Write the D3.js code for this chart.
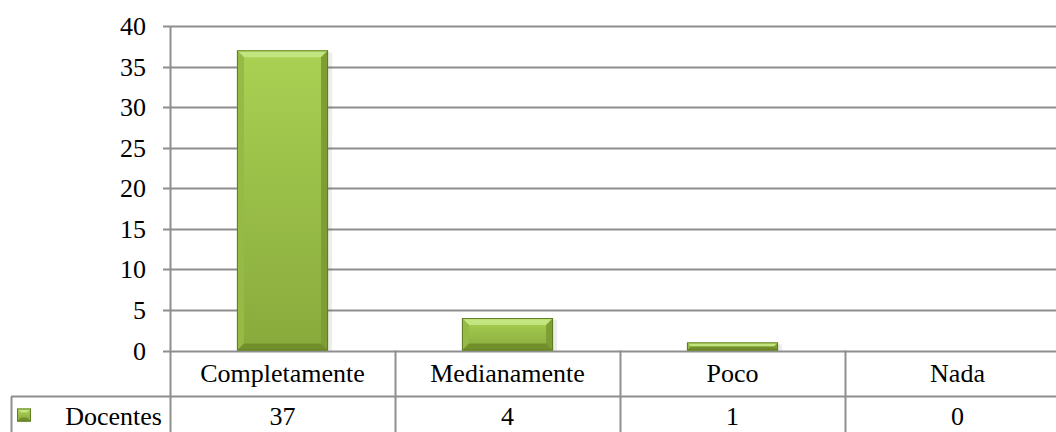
<!DOCTYPE html>
<html>
<head>
<meta charset="utf-8">
<script src="https://cdn.jsdelivr.net/npm/d3@7"></script>
<style>
  body { margin: 0; background: #fff; }
  svg { display: block; }
</style>
</head>
<body>
<script>
// chart data
var categories = ["Completamente", "Medianamente", "Poco", "Nada"];
var seriesName = "Docentes";
var docentes = [37, 4, 1, 0];
var yTicks = [0, 5, 10, 15, 20, 25, 30, 35, 40];

var W = 1056, H = 432;
var margin = {top: 26, left: 170},
    plotRight = 1070,          // plot runs past the right edge in the original
    y0 = 350.5,
    rowH = 46,
    legendLeft = 11,
    fontFam = "'Times New Roman', 'Liberation Serif', 'DejaVu Serif', serif",
    fontSize = "26px";

var svg = d3.select("body").append("svg")
    .attr("width", W)
    .attr("height", H)
    .attr("font-family", fontFam)
    .attr("font-size", fontSize);

var defs = svg.append("defs");
var grad = defs.append("linearGradient")
    .attr("id", "barFace")
    .attr("x1", 0).attr("y1", 0).attr("x2", 0).attr("y2", 1);
grad.append("stop").attr("offset", "0%").attr("stop-color", "#aad153");
grad.append("stop").attr("offset", "100%").attr("stop-color", "#88aa3c");

var xScale = d3.scaleBand()
    .domain(categories)
    .range([margin.left, plotRight])
    .paddingInner(0)
    .paddingOuter(0);

var yScale = d3.scaleLinear()
    .domain([0, 40])
    .range([y0, margin.top]);

// gridlines
svg.append("g")
  .selectAll("line")
  .data(yTicks)
  .enter().append("line")
    .attr("x1", margin.left - 7)
    .attr("x2", plotRight)
    .attr("y1", function(d) { return Math.round(yScale(d)) + 0.5; })
    .attr("y2", function(d) { return Math.round(yScale(d)) + 0.5; })
    .attr("stroke", "#8e8e8e")
    .attr("stroke-width", 2);

// y axis labels
svg.append("g")
  .selectAll("text")
  .data(yTicks)
  .enter().append("text")
    .attr("x", 146)
    .attr("y", function(d) { return yScale(d) + 9; })
    .attr("text-anchor", "end")
    .text(function(d) { return d; });

// bars with bevel
var barW = xScale.bandwidth() * 0.405;
var bars = svg.append("g")
  .selectAll("g")
  .data(docentes.map(function(v, i) { return {key: categories[i], value: v}; }))
  .enter().append("g")
    .filter(function(d) { return d.value > 0; });

bars.each(function(d) {
  var g = d3.select(this);
  var x0 = xScale(d.key) + (xScale.bandwidth() - barW) / 2,
      x1 = x0 + barW,
      yt = yScale(d.value),
      yb = yScale(0),
      h = yb - yt,
      b = Math.min(7, h / 2);

  // soft shadow
  g.append("rect")
    .attr("x", x0 + 2).attr("y", yt + 2)
    .attr("width", barW + 2).attr("height", h - 2)
    .attr("fill", "#000").attr("opacity", 0.07);

  g.append("rect")
    .attr("x", x0).attr("y", yt)
    .attr("width", barW).attr("height", h)
    .attr("fill", "url(#barFace)");

  // top bevel
  g.append("polygon")
    .attr("points", [[x0, yt], [x1, yt], [x1 - b, yt + b], [x0 + b, yt + b]].join(" "))
    .attr("fill", "#c3e57f");
  // left bevel
  g.append("polygon")
    .attr("points", [[x0, yt], [x0 + b, yt + b], [x0 + b, yb - b], [x0, yb]].join(" "))
    .attr("fill", "#95ba46");
  // right bevel
  g.append("polygon")
    .attr("points", [[x1, yt], [x1 - b, yt + b], [x1 - b, yb - b], [x1, yb]].join(" "))
    .attr("fill", "#7e9e35");
  // bottom bevel
  g.append("polygon")
    .attr("points", [[x0, yb], [x0 + b, yb - b], [x1 - b, yb - b], [x1, yb]].join(" "))
    .attr("fill", "#728f2c");

  g.append("rect")
    .attr("x", x0 + 0.5).attr("y", yt + 0.5)
    .attr("width", barW - 1).attr("height", h - 1)
    .attr("fill", "none")
    .attr("stroke", "#5f7d22")
    .attr("stroke-width", 1);
});

// y axis line (continues down as the table's first column border)
svg.append("line")
  .attr("x1", margin.left + 0.5).attr("x2", margin.left + 0.5)
  .attr("y1", margin.top).attr("y2", H)
  .attr("stroke", "#8e8e8e").attr("stroke-width", 2);

// data table
var table = svg.append("g");

table.selectAll("line.col")
  .data(categories.slice(1))
  .enter().append("line")
    .attr("class", "col")
    .attr("x1", function(d) { return xScale(d) + 0.5; })
    .attr("x2", function(d) { return xScale(d) + 0.5; })
    .attr("y1", y0).attr("y2", H)
    .attr("stroke", "#8e8e8e").attr("stroke-width", 2);

table.append("line")
  .attr("x1", legendLeft).attr("x2", W)
  .attr("y1", y0 + rowH).attr("y2", y0 + rowH)
  .attr("stroke", "#8e8e8e").attr("stroke-width", 2);

table.append("line")
  .attr("x1", legendLeft + 0.5).attr("x2", legendLeft + 0.5)
  .attr("y1", y0 + rowH).attr("y2", H)
  .attr("stroke", "#8e8e8e").attr("stroke-width", 2);

table.selectAll("text.cat")
  .data(categories)
  .enter().append("text")
    .attr("class", "cat")
    .attr("x", function(d) { return xScale(d) + xScale.bandwidth() / 2; })
    .attr("y", y0 + 31)
    .attr("text-anchor", "middle")
    .text(function(d) { return d; });

table.selectAll("text.val")
  .data(docentes)
  .enter().append("text")
    .attr("class", "val")
    .attr("x", function(d, i) { return xScale(categories[i]) + xScale.bandwidth() / 2; })
    .attr("y", y0 + rowH + 28)
    .attr("text-anchor", "middle")
    .text(function(d) { return d; });

// legend key
var key = table.append("g").attr("transform", "translate(17," + (y0 + rowH + 12) + ")");
key.append("rect").attr("width", 14).attr("height", 13).attr("fill", "url(#barFace)");
key.append("polygon").attr("points", "0,0 14,0 10,4 4,4").attr("fill", "#c3e57f");
key.append("polygon").attr("points", "0,13 14,13 10,9 4,9").attr("fill", "#728f2c");
key.append("rect").attr("x", 0.5).attr("y", 0.5).attr("width", 13).attr("height", 12)
  .attr("fill", "none").attr("stroke", "#5f7d22");

table.append("text")
  .attr("x", 162)
  .attr("y", y0 + rowH + 28)
  .attr("text-anchor", "end")
  .text(seriesName);
</script>
</body>
</html>
